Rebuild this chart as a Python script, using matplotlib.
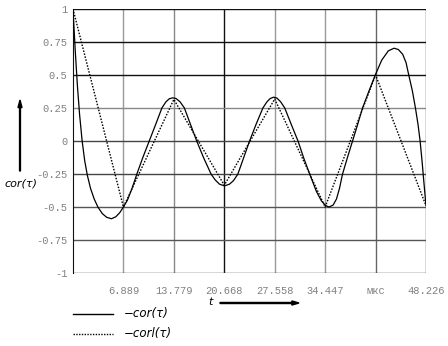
import matplotlib
matplotlib.use("Agg")
import matplotlib.pyplot as plt
from matplotlib.patches import FancyArrow

# cor1(tau): piecewise-linear samples (mks)
t_knots = [0.0, 6.889, 13.779, 20.668, 27.558, 34.447, 41.337, 48.226]
cor1_vals = [1.0, -0.5, 0.315, -0.335, 0.318, -0.5, 0.5, -0.49]

# cor(tau): smooth curve
t_cor = [0.0, 0.3, 0.6, 0.9, 1.25, 1.6, 1.96, 2.4, 2.9, 3.4,
         4.0, 4.6, 5.25, 5.85, 6.4, 6.889, 7.446, 8.04, 8.725, 9.548,
         10.416, 11.284, 12.152, 12.70, 13.157, 13.614, 14.07, 14.62, 15.21, 16.03,
         16.9, 17.86, 18.87, 19.415, 20.01, 20.69, 21.38, 21.93, 22.52, 23.3,
         24.12, 25.03, 25.95, 26.5, 26.95, 27.41, 27.86, 28.37, 28.92, 29.83,
         30.74, 31.52, 32.34, 33.26, 33.94, 34.54, 34.99, 35.54, 36.0, 36.41,
         36.82, 37.5, 38.19, 38.88, 39.56, 40.43, 41.3, 42.17, 43.08, 43.86,
         44.45, 45.04, 45.5, 45.87, 46.37, 46.78, 47.14, 47.42, 47.69, 47.97,
         48.226]
cor_vals = [1.0, 0.69, 0.42, 0.2, 0.0, -0.15, -0.26, -0.36, -0.44, -0.5,
            -0.55, -0.578, -0.589, -0.574, -0.542, -0.5, -0.447, -0.363, -0.25, -0.124,
            0.0, 0.124, 0.251, 0.297, 0.32, 0.327, 0.322, 0.297, 0.251, 0.129,
            0.0, -0.129, -0.251, -0.294, -0.327, -0.34, -0.327, -0.3, -0.251, -0.129,
            0.0, 0.129, 0.251, 0.297, 0.322, 0.332, 0.325, 0.297, 0.251, 0.124,
            0.0, -0.129, -0.251, -0.383, -0.454, -0.49, -0.5, -0.485, -0.439, -0.358,
            -0.251, -0.124, 0.0, 0.124, 0.251, 0.378, 0.5, 0.612, 0.683, 0.703,
            0.693, 0.657, 0.594, 0.5, 0.378, 0.251, 0.124, 0.0, -0.155, -0.333,
            -0.49]

x_ticks = [6.889, 13.779, 20.668, 27.558, 34.447, 41.337, 48.226]
x_tick_labels = ["6.889", "13.779", "20.668", "27.558", "34.447", "мкс", "48.226"]
y_ticks = [1, 0.75, 0.5, 0.25, 0, -0.25, -0.5, -0.75, -1]
y_tick_labels = ["1", "0.75", "0.5", "0.25", "0", "-0.25", "-0.5", "-0.75", "-1"]

W, H = 448, 346
fig = plt.figure(figsize=(W / 100, H / 100), dpi=100)
ax = fig.add_axes([73 / W, 1 - 273 / H, 353 / W, 264 / H])

ax.plot(t_cor, cor_vals, color="black", lw=0.9, zorder=3)
ax.plot(t_knots, cor1_vals, color="black", lw=1.0, ls=(0, (1.1, 1.1)), zorder=3)

# grid lines, shades as in the reference
v_colors = ["#999999", "#888888", "#111111", "#999999", "#999999", "#666666", "#444444"]
for xv, c in zip(x_ticks, v_colors):
    ax.axvline(xv, color=c, lw=1.0, zorder=1)
h_colors = ["#111111", "#111111", "#111111", "#888888", "#444444",
            "#444444", "#555555", "#555555", "#333333"]
for yv, c in zip(y_ticks, h_colors):
    ax.axhline(yv, color=c, lw=1.0, zorder=1)

ax.set_xlim(0, 48.226)
ax.set_ylim(-1, 1)
for s in ax.spines.values():
    s.set_visible(False)
ax.spines["left"].set_visible(True)
ax.spines["left"].set_color("#111111")

ax.set_xticks(x_ticks)
ax.set_xticklabels(x_tick_labels)
ax.set_yticks(y_ticks)
ax.set_yticklabels(y_tick_labels)
ax.tick_params(length=0, labelsize=7.5, labelcolor="#808080", pad=4)
ax.tick_params(axis="x", pad=9)
for lab in ax.get_xticklabels() + ax.get_yticklabels():
    lab.set_family("Liberation Mono")

# axis names with arrows
fig.text(21 / W, 1 - 183 / H, "cor(τ)", style="italic", fontsize=8,
         ha="center", va="center")
fig.add_artist(FancyArrow(20 / W, 1 - 171 / H, 0, 71 / H, width=0.002,
                          head_width=0.009, head_length=0.022, color="black",
                          transform=fig.transFigure, length_includes_head=True))
fig.text(210 / W, 1 - 302 / H, "t", style="italic", fontsize=8,
         ha="center", va="center")
fig.add_artist(FancyArrow(220 / W, 1 - 303 / H, 79 / W, 0, width=0.003,
                          head_width=0.012, head_length=0.016, color="black",
                          transform=fig.transFigure, length_includes_head=True))

# legend
fig.add_artist(plt.Line2D([73 / W, 113 / W], [1 - 314 / H] * 2, color="black", lw=1.0))
fig.add_artist(plt.Line2D([73 / W, 113 / W], [1 - 334 / H] * 2, color="black",
                          lw=1.0, ls=(0, (1, 1))))
fig.text(124 / W, 1 - 314 / H, "−cor(τ)", style="italic", fontsize=8.5, va="center")
fig.text(124 / W, 1 - 334 / H, "−corl(τ)", style="italic", fontsize=8.5, va="center")

fig.savefig("out.png", dpi=100, facecolor="white")
